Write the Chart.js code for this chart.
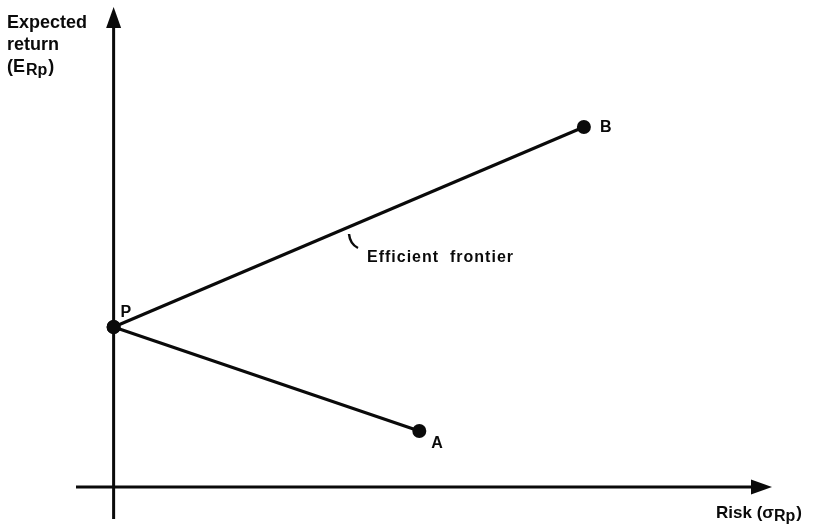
<!DOCTYPE html>
<html>
<head>
<meta charset="utf-8">
<script src="https://cdn.jsdelivr.net/npm/chart.js@4/dist/chart.umd.min.js"></script>
<style>
  html, body { margin: 0; padding: 0; background: #fff; }
  #wrap { width: 822px; height: 529px; position: relative; }
</style>
</head>
<body>
<div id="wrap"><canvas id="frontierChart"></canvas></div>
<script>
// portfolio points (risk, expected return), arbitrary units
const pointLabels = ['A', 'P', 'B'];
const riskValues = [6.5, 0, 10];
const returnValues = [1.4, 4, 9];

const axisRange = { xMin: -0.8, xMax: 14, yMin: -0.8, yMax: 12 };

const ink = '#0a0a0a';
const bold = (size) => 'bold ' + size + 'px "Liberation Sans", Arial, sans-serif';

function pt(label) {
    const i = pointLabels.indexOf(label);
    return { x: riskValues[i], y: returnValues[i] };
}

// writes pieces one after another; sub pieces sit lower and smaller
function runText(ctx, parts, x, y) {
    let cx = x;
    parts.forEach(p => {
        ctx.font = bold(p.size);
        ctx.fillText(p.t, cx, y + (p.dy || 0));
        cx += ctx.measureText(p.t).width + (p.gap || 0);
    });
}

// axes with arrow heads, drawn through the scales
const axesPlugin = {
    id: 'arrowAxes',
    beforeDatasetsDraw(chart) {
        const { ctx, scales: { x, y } } = chart;
        const x0 = x.getPixelForValue(0);
        const y0 = y.getPixelForValue(0);
        const left = x.getPixelForValue(axisRange.xMin);
        const right = x.getPixelForValue(axisRange.xMax);
        const top = y.getPixelForValue(axisRange.yMax);
        const bottom = y.getPixelForValue(axisRange.yMin);
        ctx.save();
        ctx.strokeStyle = ink;
        ctx.fillStyle = ink;
        ctx.lineWidth = 3;
        ctx.beginPath();
        ctx.moveTo(left, y0);
        ctx.lineTo(right - 14, y0);
        ctx.moveTo(x0, bottom);
        ctx.lineTo(x0, top + 14);
        ctx.stroke();
        // arrow heads
        ctx.beginPath();
        ctx.moveTo(right, y0);
        ctx.lineTo(right - 21, y0 - 7.5);
        ctx.lineTo(right - 21, y0 + 7.5);
        ctx.closePath();
        ctx.fill();
        ctx.beginPath();
        ctx.moveTo(x0, top);
        ctx.lineTo(x0 - 7.5, top + 21);
        ctx.lineTo(x0 + 7.5, top + 21);
        ctx.closePath();
        ctx.fill();
        ctx.restore();
    }
};

// text labels, axis titles and the small leader tick
const labelsPlugin = {
    id: 'textLabels',
    afterDatasetsDraw(chart) {
        const { ctx, scales: { x, y } } = chart;
        ctx.save();
        ctx.fillStyle = ink;
        ctx.textBaseline = 'alphabetic';
        ctx.textAlign = 'left';

        // point letters
        ctx.font = bold(16);
        const offsets = { A: [12, 17], P: [7, -10], B: [16, 5] };
        pointLabels.forEach((lab, i) => {
            const px = x.getPixelForValue(riskValues[i]) + offsets[lab][0];
            const py = y.getPixelForValue(returnValues[i]) + offsets[lab][1];
            ctx.fillText(lab, px, py);
        });

        // y axis title
        ctx.font = bold(18);
        ctx.fillText('Expected', 7, 28);
        ctx.fillText('return', 7, 50);
        runText(ctx, [
            { t: '(E', size: 18, gap: 1 },
            { t: 'Rp', size: 16, dy: 3, gap: 1 },
            { t: ')', size: 18 }
        ], 7, 72);

        // x axis title
        runText(ctx, [
            { t: 'Risk (σ', size: 17 },
            { t: 'Rp', size: 16, dy: 3, gap: 1 },
            { t: ')', size: 17 }
        ], 716, 518);

        // frontier annotation
        ctx.font = bold(16);
        ctx.letterSpacing = '1px';
        ctx.fillText('Efficient  frontier', 367, 262);
        ctx.letterSpacing = '0px';
        ctx.lineWidth = 2.5;
        ctx.strokeStyle = ink;
        ctx.beginPath();
        ctx.moveTo(349, 234);
        ctx.quadraticCurveTo(350, 244, 358, 248);
        ctx.stroke();
        ctx.restore();
    }
};

const commonLine = {
    showLine: true,
    borderColor: ink,
    borderWidth: 3,
    pointRadius: 7,
    pointBackgroundColor: ink,
    pointBorderColor: ink,
    pointBorderWidth: 0
};

new Chart(document.getElementById('frontierChart'), {
    type: 'scatter',
    data: {
        datasets: [
            Object.assign({ label: 'Efficient frontier', data: [pt('P'), pt('B')] }, commonLine),
            Object.assign({ label: 'Lower branch', data: [pt('P'), pt('A')] }, commonLine)
        ]
    },
    options: {
        responsive: true,
        maintainAspectRatio: false,
        animation: false,
        layout: { padding: { left: 76, right: 50, top: 7, bottom: 10 } },
        plugins: {
            legend: { display: false },
            tooltip: { enabled: false }
        },
        scales: {
            x: { type: 'linear', display: false, min: axisRange.xMin, max: axisRange.xMax },
            y: { type: 'linear', display: false, min: axisRange.yMin, max: axisRange.yMax }
        }
    },
    plugins: [axesPlugin, labelsPlugin]
});
</script>
</body>
</html>
